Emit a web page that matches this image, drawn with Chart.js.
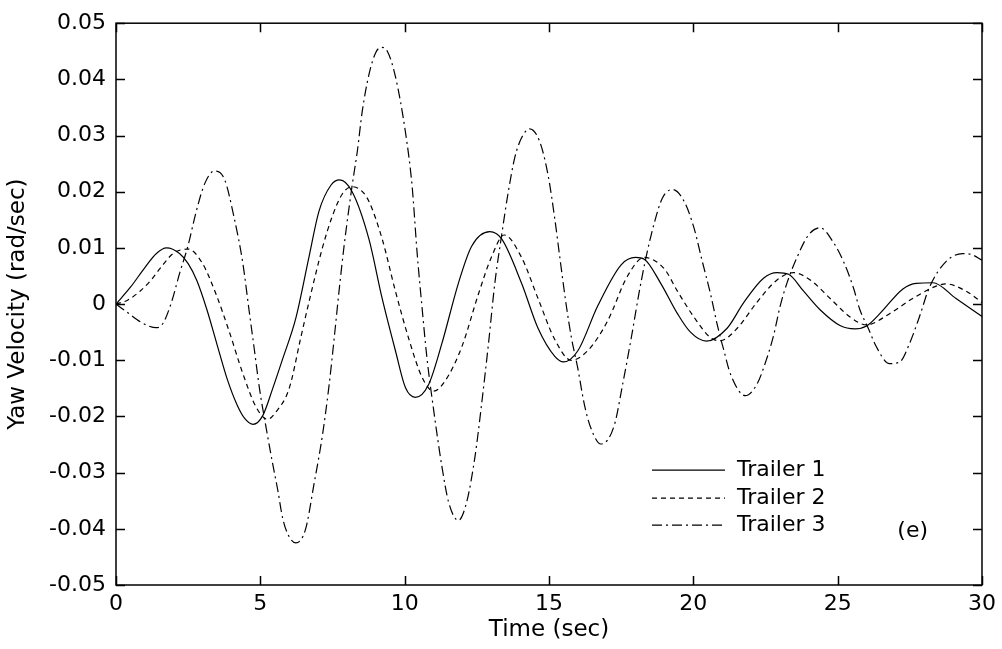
<!DOCTYPE html>
<html>
<head>
<meta charset="utf-8">
<title>Yaw Velocity</title>
<script src="https://cdn.jsdelivr.net/npm/chart.js@4.4.1/dist/chart.umd.min.js"></script>
<style>
  html, body { margin: 0; padding: 0; background: #fff; }
  #wrap { width: 1002px; height: 649px; position: relative; }
</style>
</head>
<body>
<div id="wrap"><canvas id="yaw-chart"></canvas></div>
<script>
// series names
var seriesNames = ["Trailer 1", "Trailer 2", "Trailer 3"];

// Trailer 1 (solid)
var time1 = [0, 0.5, 1.0, 1.4, 1.75, 2.2, 2.5, 2.8, 3.15, 3.5, 3.85, 4.2, 4.45, 4.75, 5.08, 5.43, 5.77, 6.23, 6.69, 7.03,
             7.45, 7.75, 8.18, 8.76, 9.22, 9.68, 10.03, 10.37, 10.83, 11.29, 11.86, 12.32, 12.95, 13.36, 14.05, 14.62, 15.2, 15.5, 16.0, 16.69,
             17.5, 18.0, 18.3, 18.87, 19.45, 19.9, 20.45, 21.17, 21.75, 22.43, 22.9, 23.3, 23.82, 24.39, 25.08, 25.6, 26.0, 26.46, 27.26, 27.72,
             28.3, 29.1, 30];
var yaw1 = [0, 0.003, 0.0065, 0.009, 0.0100, 0.0090, 0.0072, 0.0042, -0.0010, -0.0072, -0.0133, -0.0180, -0.0203, -0.0214, -0.0199, -0.0150, -0.0098, -0.0025, 0.0085, 0.0165,
            0.0212, 0.0221, 0.0200, 0.0116, 0.0010, -0.0083, -0.0149, -0.0166, -0.0143, -0.0070, 0.0037, 0.0103, 0.0129, 0.0116, 0.0037, -0.0043, -0.0093, -0.0103, -0.0083, -0.0003,
            0.0070, 0.0083, 0.0080, 0.0037, -0.0017, -0.0050, -0.0066, -0.0043, 0.0003, 0.0046, 0.0056, 0.0053, 0.0023, -0.0010, -0.0038, -0.0044, -0.0039, -0.0017, 0.0027, 0.0037,
            0.0038, 0.0010, -0.0022];

// Trailer 2 (dashed)
var time2 = [0, 0.4, 0.83, 1.2, 1.52, 1.98, 2.5, 3.0, 3.47, 3.93, 4.39, 4.85, 5.25, 5.54, 6.0, 6.4, 6.69, 7.15, 7.49, 7.84,
             8.18, 8.5, 8.76, 9.22, 9.68, 10.15, 10.6, 11.0, 11.41, 11.98, 12.55, 13.0, 13.45, 14.05, 14.62, 15.2, 15.77, 16.34, 17.03, 17.72,
             18.3, 18.99, 19.45, 20.02, 20.6, 20.94, 21.52, 22.2, 22.9, 23.47, 24.05, 24.74, 25.43, 26.0, 26.8, 27.6, 28.41, 28.75, 29.45, 30];
var yaw2 = [0, 0.0007, 0.0023, 0.0042, 0.0063, 0.0090, 0.0098, 0.0072, 0.0017, -0.0050, -0.0123, -0.0183, -0.0205, -0.0192, -0.0150, -0.0060, 0.0005, 0.0100, 0.0156, 0.0196,
            0.0209, 0.0202, 0.0183, 0.0116, 0.0023, -0.0063, -0.0130, -0.0155, -0.0136, -0.0076, 0.0017, 0.0083, 0.0123, 0.0083, 0.0010, -0.0063, -0.0100, -0.0083, -0.0030, 0.0050,
            0.0083, 0.0063, 0.0023, -0.0023, -0.0060, -0.0065, -0.0043, 0.0003, 0.0043, 0.0056, 0.0043, 0.0010, -0.0023, -0.0037, -0.0017, 0.0010, 0.0032, 0.0036, 0.0023, 0.0003];

// Trailer 3 (dash-dot)
var time3 = [0, 0.4, 0.89, 1.4, 1.63, 1.92, 2.21, 2.49, 2.78, 3.07, 3.41, 3.76, 4.1, 4.39, 4.62, 4.79, 4.97, 5.2, 5.43, 5.6,
             5.77, 5.94, 6.23, 6.57, 6.86, 7.15, 7.38, 7.55, 7.72, 7.9, 8.18, 8.36, 8.53, 8.76, 9.0, 9.2, 9.4, 9.68, 10.03, 10.26,
             10.43, 10.6, 10.77, 11.0, 11.29, 11.52, 11.86, 12.15, 12.44, 12.67, 12.9, 13.13, 13.36, 13.59, 13.82, 14.05, 14.33, 14.68, 14.97, 15.2,
             15.37, 15.6, 15.77, 16.0, 16.23, 16.46, 16.8, 17.26, 17.55, 17.84, 18.13, 18.36, 18.64, 18.93, 19.28, 19.68, 20.02, 20.3, 20.6, 20.83,
             21.06, 21.29, 21.8, 22.2, 22.55, 22.78, 23.01, 23.24, 23.59, 23.99, 24.39, 24.85, 25.2, 25.54, 25.77, 26.06, 26.34, 26.8, 27.15, 27.49,
             27.83, 28.18, 28.76, 29.33, 29.65, 30];
var yaw3 = [0, -0.0015, -0.0033, -0.0042, -0.0034, 0.0003, 0.0056, 0.0103, 0.0165, 0.0214, 0.0237, 0.0222, 0.0152, 0.0074, -0.0015, -0.0080, -0.0150, -0.0220, -0.0285, -0.0330,
            -0.0380, -0.0408, -0.0425, -0.0400, -0.0320, -0.0234, -0.0145, -0.0065, 0.0020, 0.0103, 0.0211, 0.0272, 0.0343, 0.0408, 0.0448, 0.0457, 0.0450, 0.0405, 0.0305, 0.0209,
            0.0092, -0.0005, -0.0095, -0.0187, -0.0289, -0.0352, -0.0385, -0.0352, -0.0270, -0.0176, -0.0072, 0.0040, 0.0123, 0.0200, 0.0262, 0.0296, 0.0312, 0.0289, 0.0229, 0.0152,
            0.0085, -0.0003, -0.0058, -0.0115, -0.0180, -0.0222, -0.0249, -0.0216, -0.0143, -0.0063, 0.0023, 0.0083, 0.0143, 0.0189, 0.0204, 0.0183, 0.0136, 0.0078, 0.0017, -0.0037,
            -0.0083, -0.0125, -0.0163, -0.0143, -0.0096, -0.0056, -0.0003, 0.0037, 0.0083, 0.0123, 0.0136, 0.0110, 0.0076, 0.0030, -0.0010, -0.0043, -0.0076, -0.0106, -0.0103, -0.0070,
            -0.0023, 0.0030, 0.0076, 0.0090, 0.0088, 0.0078];

// ticks and labels
var xTicks = [0, 5, 10, 15, 20, 25, 30];
var yTicks = [-0.05, -0.04, -0.03, -0.02, -0.01, 0, 0.01, 0.02, 0.03, 0.04, 0.05];
var yTickLabels = ["-0.05", "-0.04", "-0.03", "-0.02", "-0.01", "0", "0.01", "0.02", "0.03", "0.04", "0.05"];
var xTitle = "Time (sec)";
var yTitle = "Yaw Velocity (rad/sec)";
var panelLabel = "(e)";

var FONT = "'DejaVu Sans', 'Liberation Sans', Arial, sans-serif";
var dashStyles = [[], [5, 4], [10, 4, 2, 4]];

function toPoints(ts, vs){
    return ts.map(function(t, i){ return {x: t, y: vs[i]}; });
}

/***************************************************************************************************
 * box, inward ticks, legend and panel label (MATLAB look)
 */
var matlabAxes = {
    id: 'matlabAxes',
    afterDraw: function(chart){
        var ctx = chart.ctx, a = chart.chartArea;
        var xs = chart.scales.x, ys = chart.scales.y;
        ctx.save();
        ctx.strokeStyle = '#000';
        ctx.lineWidth = 1.5;
        ctx.setLineDash([]);
        ctx.strokeRect(a.left, a.top, a.right - a.left, a.bottom - a.top);

        ctx.beginPath();
        xTicks.forEach(function(v){
            var px = Math.round(xs.getPixelForValue(v)) + 0.5;
            ctx.moveTo(px, a.bottom); ctx.lineTo(px, a.bottom - 9);
            ctx.moveTo(px, a.top); ctx.lineTo(px, a.top + 9);
        });
        yTicks.forEach(function(v){
            var py = Math.round(ys.getPixelForValue(v)) + 0.5;
            ctx.moveTo(a.left, py); ctx.lineTo(a.left + 9, py);
            ctx.moveTo(a.right, py); ctx.lineTo(a.right - 9, py);
        });
        ctx.stroke();

        // legend
        var lx0 = a.left + 536, lx1 = a.left + 609, tx = a.left + 621;
        var rows = [a.top + 447, a.top + 475, a.top + 502];
        ctx.font = "22px " + FONT;
        ctx.fillStyle = '#000';
        ctx.textBaseline = 'middle';
        ctx.textAlign = 'left';
        seriesNames.forEach(function(name, i){
            ctx.beginPath();
            ctx.lineWidth = 1.2;
            ctx.setLineDash(dashStyles[i]);
            ctx.moveTo(lx0, rows[i]); ctx.lineTo(lx1, rows[i]);
            ctx.stroke();
            ctx.fillText(name, tx, rows[i]);
        });
        ctx.setLineDash([]);

        ctx.textAlign = 'center';
        ctx.fillText(panelLabel, xs.getPixelForValue(27.6), ys.getPixelForValue(-0.0405));
        ctx.restore();
    }
};

function createYawChart(){
    var data = [toPoints(time1, yaw1), toPoints(time2, yaw2), toPoints(time3, yaw3)];
    new Chart(document.getElementById("yaw-chart"), {
        type: 'line',
        data: {
            datasets: seriesNames.map(function(name, i){
                return {
                    label: name,
                    data: data[i],
                    borderColor: '#000',
                    borderWidth: 1.2,
                    borderDash: dashStyles[i],
                    pointRadius: 0,
                    fill: false,
                    cubicInterpolationMode: 'monotone'
                };
            })
        },
        options: {
            responsive: true,
            maintainAspectRatio: false,
            animation: false,
            layout: { padding: { top: 18, right: 15, left: 0, bottom: 0 } },
            plugins: {
                legend: { display: false },
                tooltip: { enabled: false }
            },
            scales: {
                x: {
                    type: 'linear',
                    min: 0,
                    max: 30,
                    afterBuildTicks: function(scale){ scale.ticks = xTicks.map(function(v){ return {value: v}; }); },
                    afterFit: function(scale){ scale.height = 64; },
                    grid: { display: false, drawTicks: false },
                    border: { display: false },
                    ticks: { color: '#000', padding: 6, maxRotation: 0, font: { family: FONT, size: 22 } },
                    title: { display: true, text: xTitle, color: '#000', padding: { top: 0, bottom: 5 }, font: { family: FONT, size: 23 } }
                },
                y: {
                    min: -0.05,
                    max: 0.05,
                    afterBuildTicks: function(scale){ scale.ticks = yTicks.map(function(v){ return {value: v}; }); },
                    afterFit: function(scale){ scale.width = 116; },
                    grid: { display: false, drawTicks: false },
                    border: { display: false },
                    ticks: {
                        color: '#000',
                        padding: 10,
                        font: { family: FONT, size: 22 },
                        callback: function(value, index){ return yTickLabels[index]; }
                    },
                    title: { display: true, text: yTitle, color: '#000', padding: { top: 4, bottom: 0 }, font: { family: FONT, size: 23 } }
                }
            }
        },
        plugins: [matlabAxes]
    });
}

createYawChart();
</script>
</body>
</html>
